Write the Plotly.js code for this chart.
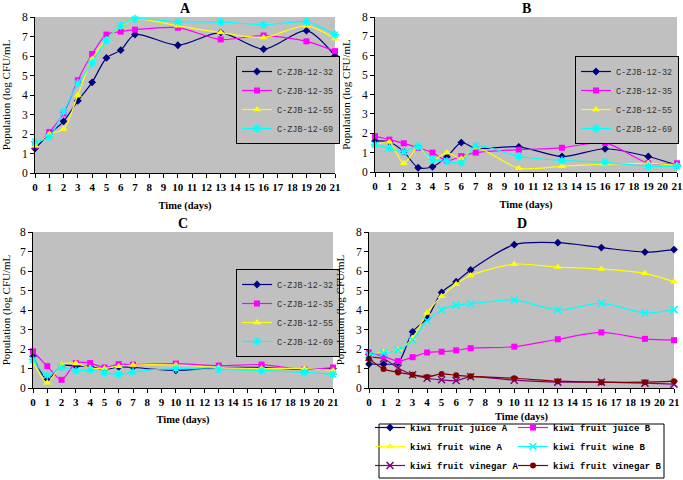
<!DOCTYPE html>
<html>
<head>
<meta charset="utf-8">
<script src="https://cdn.plot.ly/plotly-3.0.1.min.js"></script>
<style>
  html, body { margin: 0; padding: 0; background: #fff; }
  #chart { width: 683px; height: 480px; }
</style>
</head>
<body>
<div id="chart"></div>
<script>
const days = [0, 1, 2, 3, 4, 5, 6, 7, 10, 13, 16, 19, 21];
const tickDays = [0, 1, 2, 3, 4, 5, 6, 7, 8, 9, 10, 11, 12, 13, 14, 15, 16, 17, 18, 19, 20, 21];
const strainNames = ['C-ZJB-12-32', 'C-ZJB-12-35', 'C-ZJB-12-55', 'C-ZJB-12-69'];
const productNames = ['kiwi fruit juice A', 'kiwi fruit juice B', 'kiwi fruit wine A',
    'kiwi fruit wine B', 'kiwi fruit vinegar A', 'kiwi fruit vinegar B'];

// panel A
const a32 = [1.25, 2.0, 2.65, 3.7, 4.65, 5.9, 6.3, 7.1, 6.55, 7.2, 6.35, 7.3, 6.0];
const a35 = [1.4, 2.1, 3.05, 4.75, 6.1, 7.1, 7.25, 7.35, 7.45, 6.85, 7.05, 6.75, 6.25];
const a55 = [1.4, 2.0, 2.25, 4.0, 5.85, 6.85, 7.5, 7.9, 7.55, 7.2, 6.95, 7.55, 6.9];
const a69 = [1.6, 1.85, 3.15, 4.6, 5.65, 6.8, 7.55, 7.9, 7.75, 7.75, 7.6, 7.75, 7.1];

// panel B
const b32 = [1.6, 1.55, 1.05, 0.22, 0.27, 0.78, 1.52, 1.22, 1.3, 0.8, 1.2, 0.8, 0.35];
const b35 = [1.85, 1.67, 1.48, 1.25, 1.0, 0.58, 0.82, 1.0, 1.15, 1.25, 1.5, 0.45, 0.45];
const b55 = [1.35, 1.55, 0.45, 1.27, 0.62, 1.0, 0.7, 1.25, 0.2, 0.3, 0.4, 0.45, 0.35];
const b69 = [1.4, 1.23, 1.05, 1.33, 0.65, 0.55, 0.48, 1.35, 0.8, 0.6, 0.5, 0.3, 0.3];

// panel C
const c32 = [1.62, 0.44, 1.15, 1.12, 1.1, 0.95, 1.08, 1.05, 0.9, 1.05, 1.05, 0.95, 1.0];
const c35 = [1.88, 1.12, 0.42, 1.28, 1.28, 1.05, 1.22, 1.2, 1.25, 1.15, 1.2, 0.95, 1.05];
const c55 = [1.35, 0.27, 1.2, 1.27, 1.03, 1.0, 1.12, 1.18, 1.18, 1.05, 1.0, 1.0, 0.9];
const c69 = [1.45, 0.65, 1.05, 0.88, 0.93, 0.78, 0.7, 0.83, 1.0, 0.95, 0.9, 0.8, 0.7];

// panel D
const juiceA = [1.23, 1.22, 1.3, 2.88, 3.58, 4.9, 5.45, 6.05, 7.35, 7.45, 7.2, 6.97, 7.1];
const juiceB = [1.82, 1.63, 1.38, 1.58, 1.82, 1.86, 1.93, 2.04, 2.12, 2.5, 2.85, 2.52, 2.45];
const wineA = [1.72, 1.83, 1.95, 2.55, 3.86, 4.7, 5.32, 5.77, 6.35, 6.2, 6.1, 5.88, 5.45];
const wineB = [1.7, 1.8, 1.95, 2.46, 3.45, 4.0, 4.25, 4.32, 4.52, 4.0, 4.35, 3.85, 4.02];
const vinegarA = [1.58, 1.5, 1.03, 0.68, 0.5, 0.42, 0.38, 0.58, 0.4, 0.3, 0.3, 0.25, 0.2];
const vinegarB = [1.5, 0.98, 0.8, 0.68, 0.57, 0.72, 0.65, 0.6, 0.5, 0.35, 0.3, 0.3, 0.35];

const W = 683, H = 480;
const serif = 'Liberation Serif, Times New Roman, serif';
const mono = 'Liberation Mono, DejaVu Sans Mono, monospace';

const strainStyles = [
    { color: '#000080', symbol: 'diamond', size: 6 },
    { color: '#ff00ff', symbol: 'square', size: 6 },
    { color: '#ffff00', symbol: 'triangle-up', size: 7 },
    { color: '#00ffff', symbol: 'asterisk-open', size: 7 }
];

function seriesTrace(name, values, style, xa, ya, legendId) {
    return {
        x: days,
        y: values,
        name: name,
        xaxis: xa,
        yaxis: ya,
        legend: legendId,
        type: 'scatter',
        mode: 'lines+markers',
        cliponaxis: false,
        line: { color: style.color, width: 1.2, shape: 'spline', smoothing: 0.8 },
        marker: {
            color: style.color,
            symbol: style.symbol,
            size: style.size,
            line: { color: style.color, width: style.symbol.indexOf('open') >= 0 ? 1.5 : 0 }
        }
    };
}

var data = [];
const panels = [
    { series: [a32, a35, a55, a69], xa: 'x', ya: 'y', legend: 'legend' },
    { series: [b32, b35, b55, b69], xa: 'x2', ya: 'y2', legend: 'legend2' },
    { series: [c32, c35, c55, c69], xa: 'x3', ya: 'y3', legend: 'legend3' }
];
panels.forEach(function (p) {
    p.series.forEach(function (vals, i) {
        data.push(seriesTrace(strainNames[i], vals, strainStyles[i], p.xa, p.ya, p.legend));
    });
});

// panel D: left legend column then right legend column
data.push(seriesTrace(productNames[0], juiceA, { color: '#000080', symbol: 'diamond', size: 6 }, 'x4', 'y4', 'legend4'));
data.push(seriesTrace(productNames[2], wineA, { color: '#ffff00', symbol: 'triangle-up', size: 7 }, 'x4', 'y4', 'legend4'));
data.push(seriesTrace(productNames[4], vinegarA, { color: '#800080', symbol: 'x-thin-open', size: 7 }, 'x4', 'y4', 'legend4'));
data.push(seriesTrace(productNames[1], juiceB, { color: '#ff00ff', symbol: 'square', size: 6 }, 'x4', 'y4', 'legend5'));
data.push(seriesTrace(productNames[3], wineB, { color: '#00ffff', symbol: 'x-thin-open', size: 7 }, 'x4', 'y4', 'legend5'));
data.push(seriesTrace(productNames[5], vinegarB, { color: '#800000', symbol: 'circle', size: 6 }, 'x4', 'y4', 'legend5'));

function xAxis(left, right, anchor, standoff) {
    return {
        domain: [left / W, right / W],
        anchor: anchor,
        range: [0, 21],
        tickvals: tickDays,
        ticktext: tickDays.map(String),
        ticks: 'outside', ticklen: 4, tickcolor: '#000',
        showline: true, linecolor: '#000', linewidth: 1,
        showgrid: false, zeroline: false,
        tickfont: { family: serif, size: 11, color: '#000', weight: 'bold' },
        title: { text: 'Time (days)', font: { family: serif, size: 10.5, color: '#000', weight: 'bold' }, standoff: standoff }
    };
}

function yAxis(top, bottom, anchor) {
    return {
        domain: [1 - bottom / H, 1 - top / H],
        anchor: anchor,
        range: [0, 8],
        dtick: 1,
        ticks: 'outside', ticklen: 4, tickcolor: '#000',
        showline: true, linecolor: '#000', linewidth: 1,
        showgrid: false, zeroline: false,
        tickfont: { family: serif, size: 11.5, color: '#000' },
        title: { text: 'Population (log CFU/mL', font: { family: serif, size: 11, color: '#000' }, standoff: 9 }
    };
}

function boxLegend(left, top) {
    return {
        x: left / W, y: 1 - top / H, xanchor: 'left', yanchor: 'top',
        bgcolor: '#c0c0c0', bordercolor: '#000', borderwidth: 1,
        font: { family: mono, size: 8.5, color: '#333' },
        itemwidth: 30, tracegroupgap: 0
    };
}

// bottom-anchored so the columns stay inside the page
function plainLegend(left, bottom) {
    return {
        x: left / W, y: 1 - bottom / H, xanchor: 'left', yanchor: 'bottom',
        bgcolor: 'rgba(0,0,0,0)', borderwidth: 0,
        font: { family: mono, size: 9, color: '#000', weight: 'bold' },
        itemwidth: 30, tracegroupgap: 0
    };
}

function panelTitle(text, xa, top) {
    return {
        text: text, xref: xa + ' domain', x: 0.5, yref: 'paper', y: 1 - top / H,
        xanchor: 'center', yanchor: 'middle',
        showarrow: false, font: { family: serif, size: 14, color: '#000', weight: 'bold' }
    };
}

var layout = {
    width: W,
    height: H,
    margin: { l: 0, r: 0, t: 0, b: 0 },
    paper_bgcolor: '#ffffff',
    plot_bgcolor: '#c0c0c0',
    showlegend: true,
    xaxis: xAxis(35, 335, 'y', 9),
    yaxis: yAxis(17, 173, 'x'),
    xaxis2: xAxis(375, 677, 'y2', 9),
    yaxis2: yAxis(17, 172, 'x2'),
    xaxis3: xAxis(33, 333, 'y3', 8),
    yaxis3: yAxis(232, 388, 'x3'),
    xaxis4: xAxis(369, 674, 'y4', 5),
    yaxis4: yAxis(232, 388, 'x4'),
    legend: boxLegend(236, 56),
    legend2: boxLegend(575, 56),
    legend3: boxLegend(236, 269),
    legend4: plainLegend(370, 480),
    legend5: plainLegend(513, 480),
    shapes: [{
        type: 'rect', xref: 'paper', yref: 'paper',
        x0: 379 / W, x1: 664 / W, y0: 1 - 478 / H, y1: 1 - 424 / H,
        fillcolor: '#ffffff', line: { color: '#000', width: 1 }, layer: 'above'
    }],
    annotations: [
        panelTitle('A', 'x', 8),
        panelTitle('B', 'x2', 8),
        panelTitle('C', 'x3', 223),
        panelTitle('D', 'x4', 223)
    ]
};

Plotly.newPlot('chart', data, layout, { displayModeBar: false, staticPlot: true });
</script>
</body>
</html>
